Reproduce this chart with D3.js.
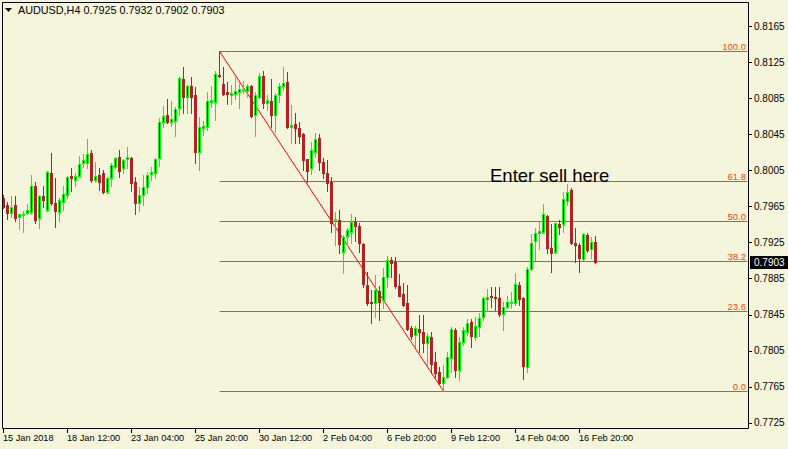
<!DOCTYPE html>
<html>
<head>
<meta charset="utf-8">
<script src="https://cdn.jsdelivr.net/npm/d3@7"></script>
<style>
  html, body { margin: 0; padding: 0; background: #f5f5dc; }
  svg { display: block; font-family: "Liberation Sans", Arial, sans-serif; }
</style>
</head>
<body>
<svg id="chart" width="788" height="449"></svg>
<script>
// AUDUSD H4 candles (15 Jan 20:00 .. 16 Feb 20:00)
const opens = [
  .7974,.7966,.7958,.7966,.7953,.7955,.7958,.7959,.7988,.7952,
  .7976,.7961,.8002,.7969,.7959,.7970,.7977,.7999,.7994,.7999,
  .8013,.8013,.8024,.7994,.8000,.8002,.7981,.7996,.8009,.8020,
  .8007,.8018,.8019,.7992,.7969,.7977,.7986,.8001,.8002,.8019,
  .8058,.8066,.8059,.8060,.8074,.8106,.8086,.8098,.8088,.8025,
  .8052,.8053,.8081,.8081,.8111,.8101,.8092,.8089,.8090,.8092,
  .8094,.8093,.8099,.8066,.8086,.8109,.8080,.8082,.8066,.8088,
  .8099,.8103,.8053,.8056,.8052,.8045,.8017,.8007,.8025,.8041,
  .8014,.8002,.7992,.7950,.7950,.7914,.7932,.7937,.7948,.7943,
  .7923,.7878,.7859,.7858,.7871,.7861,.7887,.7905,.7903,.7877,
  .7868,.7858,.7830,.7822,.7829,.7826,.7813,.7820,.7792,.7781,
  .7769,.7776,.7797,.7828,.7783,.7815,.7826,.7837,.7820,.7831,
  .7842,.7862,.7866,.7864,.7863,.7846,.7853,.7858,.7858,.7878,
  .7863,.7787,.7895,.7926,.7935,.7937,.7954,.7919,.7914,.7945,
  .7945,.7971,.7983,.7924,.7922,.7907,.7933,.7918,.7925
];
const highs = [
  .7978,.7970,.7976,.7976,.7957,.7960,.7968,.8000,.7992,.7977,
  .7987,.8004,.8024,.7996,.7974,.7987,.7999,.8008,.8002,.8021,
  .8023,.8040,.8027,.8014,.8007,.8005,.7997,.8013,.8020,.8028,
  .8018,.8031,.8020,.7997,.7986,.8000,.8003,.8009,.8019,.8063,
  .8076,.8084,.8082,.8075,.8108,.8120,.8100,.8108,.8097,.8064,
  .8060,.8092,.8099,.8115,.8137,.8119,.8103,.8100,.8108,.8102,
  .8104,.8101,.8100,.8092,.8113,.8115,.8088,.8106,.8091,.8102,
  .8119,.8114,.8077,.8068,.8058,.8046,.8018,.8036,.8046,.8045,
  .8019,.8016,.7997,.7959,.7961,.7933,.7941,.7956,.7953,.7947,
  .7924,.7892,.7872,.7889,.7877,.7897,.7910,.7909,.7909,.7890,
  .7880,.7878,.7832,.7832,.7845,.7845,.7824,.7826,.7803,.7787,
  .7789,.7803,.7831,.7830,.7820,.7831,.7840,.7840,.7842,.7847,
  .7864,.7873,.7876,.7876,.7876,.7859,.7866,.7870,.7891,.7881,
  .7864,.7898,.7934,.7941,.7948,.7968,.7955,.7945,.7947,.7950,
  .7981,.7990,.7985,.7941,.7924,.7935,.7935,.7931,.7932
];
const lows = [
  .7963,.7951,.7953,.7949,.7940,.7937,.7956,.7956,.7947,.7941,
  .7964,.7960,.7967,.7942,.7949,.7961,.7974,.7982,.7987,.7997,
  .8009,.8008,.7992,.7993,.7983,.7980,.7980,.7987,.8008,.7998,
  .8002,.8007,.7982,.7956,.7960,.7967,.7980,.7994,.7996,.8010,
  .8053,.8057,.8054,.8043,.8066,.8069,.8069,.8068,.8013,.8005,
  .8044,.8050,.8075,.8061,.8108,.8088,.8079,.8078,.8084,.8074,
  .8091,.8086,.8064,.8043,.8085,.8074,.8072,.8053,.8047,.8081,
  .8094,.8052,.8035,.8035,.8035,.8005,.7992,.8001,.8020,.8005,
  .7996,.7982,.7937,.7922,.7913,.7891,.7922,.7924,.7926,.7914,
  .7875,.7855,.7836,.7842,.7839,.7852,.7876,.7887,.7874,.7865,
  .7854,.7828,.7818,.7809,.7803,.7803,.7789,.7780,.7775,.7768,
  .7760,.7775,.7781,.7776,.7772,.7811,.7822,.7809,.7817,.7821,
  .7839,.7849,.7853,.7850,.7843,.7828,.7852,.7852,.7855,.7855,
  .7773,.7781,.7894,.7905,.7918,.7935,.7913,.7892,.7913,.7934,
  .7937,.7966,.7923,.7903,.7892,.7906,.7914,.7908,.7902
];
const closes = [
  .7964,.7958,.7964,.7952,.7956,.7957,.7961,.7987,.7950,.7976,
  .7972,.8003,.7969,.7960,.7972,.7979,.7998,.7996,.7999,.8012,
  .8016,.8023,.7994,.7999,.7992,.7981,.7996,.8011,.8019,.8004,
  .8016,.8020,.7991,.7969,.7977,.7986,.8000,.8003,.8018,.8058,
  .8065,.8058,.8062,.8073,.8107,.8086,.8099,.8086,.8025,.8053,
  .8054,.8082,.8083,.8112,.8109,.8090,.8090,.8091,.8093,.8095,
  .8095,.8098,.8065,.8088,.8109,.8080,.8083,.8066,.8088,.8099,
  .8102,.8053,.8055,.8052,.8043,.8016,.8004,.8027,.8040,.8014,
  .8002,.7991,.7947,.7951,.7923,.7931,.7939,.7948,.7943,.7924,
  .7879,.7858,.7858,.7872,.7859,.7887,.7906,.7902,.7877,.7866,
  .7855,.7829,.7821,.7830,.7826,.7813,.7821,.7790,.7780,.7769,
  .7776,.7798,.7829,.7784,.7815,.7828,.7836,.7821,.7832,.7841,
  .7863,.7864,.7864,.7863,.7846,.7853,.7859,.7859,.7879,.7862,
  .7788,.7896,.7924,.7935,.7938,.7956,.7919,.7913,.7946,.7942,
  .7973,.7981,.7924,.7922,.7908,.7934,.7916,.7925,.7903
];

// axis labels
const priceTicks = [0.7725,0.7765,0.7805,0.7845,0.7885,0.7925,0.7965,0.8005,0.8045,0.8085,0.8125,0.8165];
const timeTickIdx = [0,16,32,48,64,80,96,112,128,144];
const timeLabels = ["15 Jan 2018","18 Jan 12:00","23 Jan 04:00","25 Jan 20:00","30 Jan 12:00",
                    "2 Feb 04:00","6 Feb 20:00","9 Feb 12:00","14 Feb 04:00","16 Feb 20:00"];

// fibonacci retracement
const fibLevels = [0.0, 23.6, 38.2, 50.0, 61.8, 100.0];
const fibHigh = 0.8137, fibHighIdx = 54;
const fibLow = 0.7760, fibLowIdx = 110;

const lastPrice = 0.7903;

const svg = d3.select('#chart');
const W = 788, H = 449;
const plotL = 2, plotR = 748, plotT = 2, plotB = 428;

const x = d3.scaleLinear().domain([0, 148]).range([3.5, 595.5]);
const y = d3.scaleLinear().domain([0.7725, 0.8165]).range([422.7, 26]);

svg.append('rect').attr('width', W).attr('height', H).attr('fill', '#f5f5dc');

svg.append('clipPath').attr('id', 'plot')
  .append('rect').attr('x', plotL + 0.5).attr('y', plotT + 0.5)
  .attr('width', plotR - plotL - 1).attr('height', plotB - plotT - 1);

const g = svg.append('g').attr('clip-path', 'url(#plot)');

// fibo lines
const fibColor = '#ff4500';
const fibY = (l) => Math.round(y(fibLow + (fibHigh - fibLow) * l / 100)) + 0.5;
g.selectAll('line.fib')
  .data(fibLevels)
  .enter()
  .append('line')
  .attr('x1', x(fibHighIdx)).attr('x2', plotR)
  .attr('y1', fibY).attr('y2', fibY)
  .attr('stroke', fibColor).attr('stroke-width', 1);

g.selectAll('text.fib')
  .data(fibLevels)
  .enter()
  .append('text')
  .attr('x', plotR - 2)
  .attr('y', (l) => fibY(l) - 2)
  .attr('text-anchor', 'end')
  .attr('font-size', 9.5)
  .attr('fill', fibColor)
  .text((l) => l.toFixed(1));

// trend line of the fibo
g.append('line')
  .attr('x1', x(fibHighIdx)).attr('y1', y(fibHigh))
  .attr('x2', x(fibLowIdx)).attr('y2', y(fibLow))
  .attr('stroke', '#ff0000').attr('stroke-width', 1);

// candles
const candles = opens.map((o, i) => ({i: i, o: o, h: highs[i], l: lows[i], c: closes[i]}));

const cg = g.selectAll('g.candle')
  .data(candles)
  .enter()
  .append('g');

cg.append('line')
  .attr('x1', (d) => x(d.i)).attr('x2', (d) => x(d.i))
  .attr('y1', (d) => Math.round(y(d.h)))
  .attr('y2', (d) => Math.round(y(d.l)) + 1)
  .attr('stroke', (d) => d.c >= d.o ? '#00ff00' : '#b22222')
  .attr('stroke-width', 1);

cg.append('rect')
  .attr('x', (d) => x(d.i) - 1.5)
  .attr('y', (d) => Math.round(y(Math.max(d.o, d.c))))
  .attr('width', 3)
  .attr('height', (d) => Math.max(1, Math.round(y(Math.min(d.o, d.c))) - Math.round(y(Math.max(d.o, d.c))) + 1))
  .attr('fill', (d) => d.c >= d.o ? '#00ff00' : '#b22222');

// dark centre of bull bodies
cg.filter((d) => d.c > d.o && Math.round(y(d.o)) - Math.round(y(d.c)) > 1)
  .append('rect')
  .attr('x', (d) => x(d.i) - 0.5)
  .attr('y', (d) => Math.round(y(d.c)) + 1)
  .attr('width', 1)
  .attr('height', (d) => Math.round(y(d.o)) - Math.round(y(d.c)) - 1)
  .attr('fill', '#000000');

// frame
svg.append('path')
  .attr('d', `M${plotL + 0.5},${plotT + 0.5}H${plotR + 0.5}V${plotB + 0.5}H${plotL + 0.5}Z`)
  .attr('fill', 'none').attr('stroke', '#000').attr('stroke-width', 1);

// price axis
const pa = svg.append('g');
pa.selectAll('line')
  .data(priceTicks)
  .enter()
  .append('line')
  .attr('x1', plotR).attr('x2', plotR + 4)
  .attr('y1', (p) => Math.round(y(p)) + 0.5).attr('y2', (p) => Math.round(y(p)) + 0.5)
  .attr('stroke', '#000');
pa.selectAll('text')
  .data(priceTicks)
  .enter()
  .append('text')
  .attr('x', plotR + 6)
  .attr('y', (p) => y(p) + 3.5)
  .attr('font-size', 10)
  .attr('fill', '#000')
  .text((p) => p.toFixed(4));

// current price box
const ly = Math.round(y(lastPrice));
svg.append('rect')
  .attr('x', plotR + 2).attr('y', ly - 6).attr('width', 38).attr('height', 13)
  .attr('fill', '#000');
svg.append('text')
  .attr('x', plotR + 6).attr('y', ly + 4)
  .attr('font-size', 10).attr('fill', '#fff')
  .text(lastPrice.toFixed(4));

// time axis
const ta = svg.append('g');
ta.selectAll('line')
  .data(timeTickIdx)
  .enter()
  .append('line')
  .attr('x1', (i) => x(i)).attr('x2', (i) => x(i))
  .attr('y1', plotB).attr('y2', plotB + 5)
  .attr('stroke', '#000');
ta.selectAll('text')
  .data(timeTickIdx)
  .enter()
  .append('text')
  .attr('x', (i) => x(i) - 0.5)
  .attr('y', 441)
  .attr('font-size', 9.2)
  .attr('fill', '#000')
  .text((i, k) => timeLabels[k]);

// title
svg.append('path').attr('d', 'M5,8H12L8.5,12Z').attr('fill', '#000');
svg.append('text')
  .attr('x', 18).attr('y', 14)
  .attr('font-size', 10.8)
  .attr('fill', '#000')
  .text('AUDUSD,H4  0.7925 0.7932 0.7902 0.7903');

// annotation
svg.append('text')
  .attr('x', 490).attr('y', 182)
  .attr('font-size', 18.5)
  .attr('fill', '#000')
  .text('Enter sell here');
</script>
</body>
</html>
